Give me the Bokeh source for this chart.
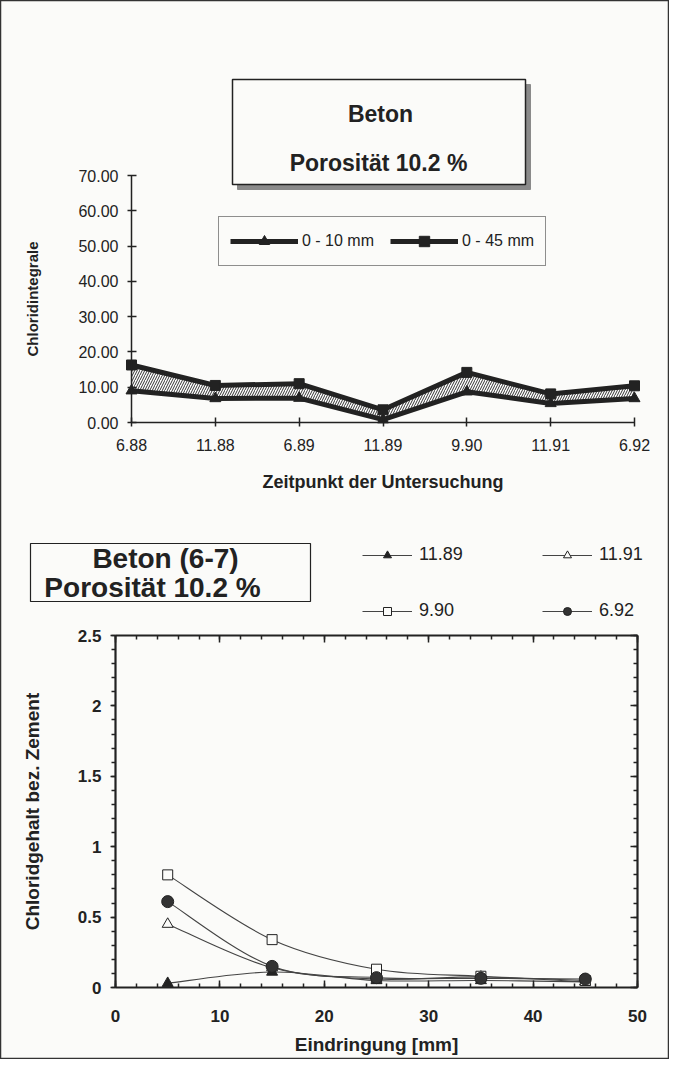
from bokeh.plotting import figure
from bokeh.models import (Range1d, LinearAxis, FixedTicker, SingleIntervalTicker,
                          Legend, LegendItem, PrintfTickFormatter)
from bokeh.embed import file_html
from bokeh.resources import INLINE
from bokeh.core.properties import value

# ---------------- data ----------------
zeitpunkte = ["6.88", "11.88", "6.89", "11.89", "9.90", "11.91", "6.92"]
integral_0_10 = [9.0, 6.8, 6.9, 0.8, 8.7, 5.4, 6.8]
integral_0_45 = [16.3, 10.5, 11.0, 3.6, 14.2, 8.1, 10.4]
top_y_ticks = [0, 10, 20, 30, 40, 50, 60, 70]

eindringung = [5, 15, 25, 35, 45]
cl_1189 = [0.03, 0.11, 0.05, 0.05, 0.04]
cl_1191 = [0.45, 0.14, 0.06, 0.075, 0.04]
cl_990 = [0.80, 0.34, 0.13, 0.08, 0.05]
cl_692 = [0.61, 0.15, 0.07, 0.065, 0.06]

FONT = "Liberation Sans"
INK = "#222222"
BG = "#fbfbf9"
W, H = 669, 1059


def rng(a, pa, b, pb, size, invert=False):
    s = (b - a) / (pb - pa)
    v0 = a + (0 - pa) * s
    v1 = a + (size - pa) * s
    return Range1d(v1, v0) if invert else Range1d(v0, v1)


p = figure(width=W, height=H, output_backend="svg", toolbar_location=None,
           x_range=Range1d(0, W), y_range=Range1d(H, 0),
           x_axis_location=None, y_axis_location=None, min_border=0)
p.grid.visible = False
p.background_fill_color = BG
p.border_fill_color = BG
p.outline_line_color = "#333333"
p.outline_line_width = 1.5

pos = list(range(len(zeitpunkte)))
p.extra_x_ranges = {"tx": rng(0, 131, 6, 634, W),
                    "bx": rng(0, 115, 50, 637, W)}
p.extra_y_ranges = {"ty": rng(0, 422, 70, 175, H, invert=True),
                    "by": rng(0, 987, 2.5, 635, H, invert=True)}

# ---------------- top chart ----------------
T = dict(x_range_name="tx", y_range_name="ty")
p.varea(x=pos, y1=integral_0_10, y2=integral_0_45, fill_color="white",
        hatch_pattern="/", hatch_color="#333333", hatch_scale=5, hatch_weight=1, **T)
l10 = p.line(pos, integral_0_10, line_width=5, line_color=INK, **T)
l45 = p.line(pos, integral_0_45, line_width=5, line_color=INK, **T)
s10 = p.scatter(pos, integral_0_10, marker="triangle", size=11, color=INK, **T)
s45 = p.scatter(pos, integral_0_45, marker="square", size=10, color=INK, **T)

ax = LinearAxis(fixed_location=0, ticker=FixedTicker(ticks=pos, minor_ticks=[]),
                major_label_overrides={i: t for i, t in enumerate(zeitpunkte)},
                bounds=(0, 6), axis_label="Zeitpunkt der Untersuchung", **T)
ay = LinearAxis(fixed_location=0, ticker=FixedTicker(ticks=top_y_ticks, minor_ticks=[]),
                formatter=PrintfTickFormatter(format="%.2f"), bounds=(0, 70),
                axis_label="Chloridintegrale", **T)
for a in (ax, ay):
    a.axis_line_width = 1.5
    a.axis_line_color = INK
    a.major_tick_line_color = INK
    a.major_tick_line_width = 1.5
    a.major_tick_in = 5
    a.major_tick_out = 4
    a.minor_tick_line_color = None
    a.major_label_text_font = FONT
    a.major_label_text_font_size = "16px"
    a.major_label_text_color = INK
    a.axis_label_text_font = FONT
    a.axis_label_text_font_style = "bold"
    a.axis_label_text_color = INK
ax.major_label_standoff = 12
ax.axis_label_standoff = 18
ax.axis_label_text_font_size = "18px"
ay.major_label_standoff = 9
ay.axis_label_standoff = 34
ay.axis_label_text_font_size = "15px"
p.add_layout(ax, "below")
p.add_layout(ay, "left")

leg_top = Legend(items=[LegendItem(label="0 - 10 mm", renderers=[l10, s10]),
                        LegendItem(label="0 - 45 mm", renderers=[l45, s45])],
                 orientation="horizontal", location=(218, H - 266),
                 glyph_width=68, glyph_height=26, label_standoff=4, spacing=16,
                 padding=11, border_line_color=INK, border_line_width=1.2,
                 background_fill_color=BG, background_fill_alpha=1,
                 label_text_font=FONT, label_text_font_size="16px",
                 label_text_color=INK)
p.add_layout(leg_top, "center")

# title box top
p.quad(left=[237], right=[530], top=[84], bottom=[189], fill_color="#8a8a8a",
       line_color="#8a8a8a")
p.quad(left=[232], right=[525], top=[79], bottom=[184], fill_color=BG,
       line_color=INK, line_width=1.5)
p.text(x=[380, 378], y=[113, 162], text=["Beton", "Porosität 10.2 %"],
       text_font=value(FONT), text_font_style="bold", text_font_size="23px",
       text_align="center", text_baseline="middle", text_color=INK)

# ---------------- bottom chart ----------------
B = dict(x_range_name="bx", y_range_name="by")


def smooth(xs, ys):
    n = len(xs)
    out = {k: [] for k in ("x0", "y0", "x1", "y1", "cx0", "cy0", "cx1", "cy1")}
    for i in range(n - 1):
        im, i2 = max(i - 1, 0), min(i + 2, n - 1)
        out["x0"].append(xs[i]); out["y0"].append(ys[i])
        out["x1"].append(xs[i + 1]); out["y1"].append(ys[i + 1])
        out["cx0"].append(xs[i] + (xs[i + 1] - xs[im]) / 6)
        out["cy0"].append(ys[i] + (ys[i + 1] - ys[im]) / 6)
        out["cx1"].append(xs[i + 1] - (xs[i2] - xs[i]) / 6)
        out["cy1"].append(ys[i + 1] - (ys[i2] - ys[i]) / 6)
    return out


series = [("11.89", cl_1189, "triangle", INK, 11),
          ("11.91", cl_1191, "triangle", BG, 11),
          ("9.90", cl_990, "square", BG, 10),
          ("6.92", cl_692, "circle", "#333333", 12)]
items = {}
for name, ys, mk, fill, sz in series:
    seg = smooth(eindringung, ys)
    bz = p.bezier(line_color="#444444", line_width=1.1, **seg, **B)
    sc = p.scatter(eindringung, ys, marker=mk, size=sz, fill_color=fill,
                   line_color=INK, line_width=1, **B)
    items[name] = LegendItem(label=name, renderers=[bz, sc])

bax = LinearAxis(fixed_location=0, ticker=SingleIntervalTicker(interval=10, num_minor_ticks=5),
                 bounds=(0, 50), axis_label="Eindringung [mm]", **B)
bay = LinearAxis(fixed_location=0, ticker=SingleIntervalTicker(interval=0.5, num_minor_ticks=5),
                 bounds=(0, 2.5), axis_label="Chloridgehalt bez. Zement", **B)
btop = LinearAxis(fixed_location=2.5, ticker=SingleIntervalTicker(interval=10, num_minor_ticks=5),
                  bounds=(0, 50), **B)
bright = LinearAxis(fixed_location=50, ticker=SingleIntervalTicker(interval=0.5, num_minor_ticks=5),
                    bounds=(0, 2.5), **B)
for a in (bax, bay, btop, bright):
    a.axis_line_width = 2.2
    a.axis_line_color = INK
    a.major_tick_line_color = INK
    a.minor_tick_line_color = INK
    a.major_tick_line_width = 1.5
    a.minor_tick_line_width = 1.5
    a.major_tick_in = 7
    a.major_tick_out = 0
    a.minor_tick_in = 4
    a.minor_tick_out = 0
    a.major_label_text_font = FONT
    a.major_label_text_font_size = "17px"
    a.major_label_text_font_style = "bold"
    a.major_label_text_color = INK
    a.axis_label_text_font = FONT
    a.axis_label_text_font_style = "bold"
    a.axis_label_text_font_size = "19px"
    a.axis_label_text_color = INK
bay.major_tick_in = 0
bay.major_tick_out = 5
bay.minor_tick_in = 0
bay.minor_tick_out = 4
bay.major_label_standoff = 9
bay.axis_label_standoff = 32
bax.major_label_standoff = 22
bax.axis_label_standoff = 9
for a in (btop, bright):
    a.major_label_text_color = None
    a.major_label_text_font_size = "0px"
p.add_layout(bax, "below")
p.add_layout(bay, "left")
p.add_layout(btop, "above")
p.add_layout(bright, "right")

for names, x0 in ((["11.89", "9.90"], 362), (["11.91", "6.92"], 542)):
    lg = Legend(items=[items[n] for n in names], location=(x0, H - 621),
                glyph_width=50, glyph_height=20, label_standoff=7, spacing=35,
                padding=0, border_line_color=None, background_fill_alpha=0,
                label_text_font=FONT, label_text_font_size="18px",
                label_text_color=INK)
    p.add_layout(lg, "center")

# title box bottom
p.quad(left=[30], right=[310], top=[543], bottom=[601], fill_color=BG,
       line_color=INK, line_width=1.2)
p.text(x=[165, 152], y=[558, 587], text=["Beton (6-7)", "Porosität 10.2 %"],
       text_font=value(FONT), text_font_style="bold", text_font_size="28px",
       text_align="center", text_baseline="middle", text_color=INK)

open("out.html", "w").write(file_html(p, INLINE))
